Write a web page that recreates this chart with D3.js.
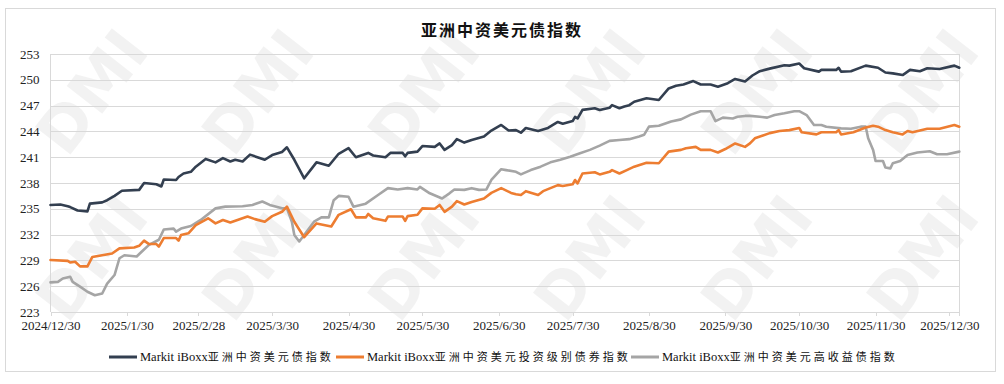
<!DOCTYPE html>
<html><head><meta charset="utf-8">
<script src="https://cdn.jsdelivr.net/npm/d3@7"></script>
<style>body{margin:0;background:#fff}svg{display:block}</style>
</head><body><svg id="c" width="1004" height="384"></svg>
<script>
const chartTitle = "亚洲中资美元债指数";
const seriesNames = ["Markit iBoxx亚洲中资美元债指数", "Markit iBoxx亚洲中资美元投资级别债券指数", "Markit iBoxx亚洲中资美元高收益债指数"];
const startDate = "2024-12-30";
const endDate = "2026-01-03";
const xTickDates = ["2024-12-30","2025-01-30","2025-02-28","2025-03-30","2025-04-30","2025-05-30","2025-06-30","2025-07-30","2025-08-30","2025-09-30","2025-10-30","2025-11-30","2025-12-30"];
const xTickLabels = ["2024/12/30","2025/1/30","2025/2/28","2025/3/30","2025/4/30","2025/5/30","2025/6/30","2025/7/30","2025/8/30","2025/9/30","2025/10/30","2025/11/30","2025/12/30"];
const yTicks = [223,226,229,232,235,238,241,244,247,250,253];

// day offsets from 2024-12-30 and index values
const allDays = [0,4,7,8,11,15,16,21,23,26,29,36,38,43,45,46,51,52,54,57,59,63,67,70,73,75,78,81,84,87,90,94,96,99,103,108,113,117,121,124,129,131,136,138,143,144,145,149,151,156,158,160,163,165,168,171,176,179,183,186,189,191,193,198,202,206,208,212,213,214,216,221,223,227,228,231,233,235,237,242,247,251,254,257,261,264,268,271,275,278,282,285,288,292,298,300,304,306,312,313,319,320,321,325,331,336,339,342,346,349,353,356,361,367,369];
const allValues = [235.45,235.5,235.3,235.2,234.8,234.7,235.6,235.75,236.0,236.5,237.1,237.2,238.0,237.85,237.6,238.4,238.35,238.7,239.1,239.3,239.9,240.8,240.4,240.9,240.5,240.7,240.5,241.3,241.0,240.7,241.25,241.6,242.15,240.7,238.55,240.4,240.0,241.4,242.05,241.0,241.5,241.2,241.0,241.5,241.5,241.1,241.5,241.65,242.3,242.2,242.6,241.85,242.4,243.1,242.7,243.0,243.4,244.1,244.75,244.1,244.15,243.85,244.4,244.05,244.4,245.1,244.9,245.2,245.7,245.5,246.5,246.7,246.5,246.75,247.05,246.7,246.9,247.05,247.45,247.85,247.65,249.0,249.3,249.45,249.85,249.45,249.45,249.2,249.6,250.1,249.8,250.5,251.0,251.3,251.7,251.65,251.9,251.35,250.95,251.15,251.15,251.4,250.95,251.0,251.65,251.4,250.85,250.75,250.55,251.15,251.0,251.35,251.25,251.65,251.4];

const igDays = [0,7,8,10,12,15,17,21,25,28,34,36,38,40,43,44,46,51,52,53,56,59,64,67,70,73,80,83,87,90,94,96,99,103,108,114,117,122,124,128,129,131,136,137,143,144,145,149,151,156,158,160,163,165,168,171,176,179,183,187,189,191,193,198,200,206,208,212,213,214,216,221,223,227,228,231,234,237,242,247,251,256,258,262,264,268,271,274,278,282,284,286,292,296,300,304,305,311,313,319,320,321,326,331,334,336,339,342,346,348,350,356,361,367,369];
const igValues = [229.05,228.95,228.75,228.85,228.3,228.3,229.4,229.6,229.8,230.4,230.5,230.7,231.3,230.9,230.9,230.6,231.6,231.6,231.3,231.95,232.15,233.1,233.9,233.3,233.7,233.4,234.1,233.8,233.5,234.15,234.65,235.25,233.5,231.7,233.3,232.95,234.3,234.95,234.0,234.0,234.4,233.9,233.6,234.1,234.1,233.6,234.15,234.3,235.05,235.0,235.45,234.65,235.25,235.9,235.5,235.8,236.2,236.85,237.4,236.85,236.7,236.6,237.05,236.6,237.05,237.75,237.65,237.85,238.35,237.95,239.1,239.25,239.0,239.3,239.5,239.1,239.5,239.9,240.35,240.3,241.65,241.85,242.05,242.2,241.85,241.85,241.55,241.95,242.6,242.2,242.6,243.2,243.8,244.05,244.15,244.4,243.9,243.65,243.9,243.9,244.15,243.65,243.9,244.45,244.65,244.55,244.15,243.9,243.65,244.05,243.9,244.3,244.3,244.75,244.55];

const hyDays = [0,3,5,8,9,12,15,18,21,23,26,28,30,35,37,40,44,46,50,51,53,57,61,67,71,78,82,86,89,94,96,98,99,101,103,107,110,113,115,117,121,123,128,133,137,141,145,149,150,154,159,162,164,168,171,174,177,179,183,185,189,191,195,199,203,207,211,215,219,223,227,231,235,239,241,243,247,252,256,260,264,268,270,273,277,279,282,284,288,291,294,298,302,304,307,310,313,315,321,325,329,331,332,334,335,338,339,341,342,345,348,352,357,360,364,369];
const hyValues = [226.45,226.5,226.9,227.1,226.5,225.95,225.35,224.95,225.15,226.3,227.3,229.25,229.6,229.45,230.0,230.8,231.4,232.6,232.7,232.35,232.7,233.0,233.7,235.05,235.25,235.3,235.45,235.85,235.45,235.05,235.05,233.5,231.95,231.2,231.95,233.5,234.0,234.0,236.0,236.5,236.4,235.25,235.6,236.6,237.4,237.25,237.4,237.25,237.55,236.8,236.2,236.8,237.25,237.2,237.4,237.2,237.25,238.35,239.6,239.5,239.3,239.0,239.5,239.9,240.4,240.7,241.05,241.45,241.85,242.35,242.9,243.0,243.1,243.4,243.6,244.55,244.65,245.15,245.4,245.95,246.35,246.35,245.2,245.6,245.5,245.7,245.8,245.8,245.7,245.6,245.9,246.1,246.35,246.35,245.9,244.75,244.75,244.55,244.35,244.3,244.55,244.55,243.2,241.85,240.55,240.55,239.8,239.7,240.3,240.55,241.25,241.55,241.7,241.35,241.35,241.65];

const lineColors = ["#333f50", "#ed7d31", "#a5a5a5"];

const svg = d3.select("#c");
const W = 1004, H = 384;
const plot = {left: 50.5, right: 959.3, top: 54, bottom: 312};
const parse = d3.timeParse("%Y-%m-%d");
const t0 = parse(startDate);
const x = d3.scaleTime().domain([t0, parse(endDate)]).range([plot.left, plot.right]);
const y = d3.scaleLinear().domain([223, 253]).range([plot.bottom, plot.top]);

// background + frame
svg.append("rect").attr("x",0).attr("y",0).attr("width",W).attr("height",H).attr("fill","#fff");
svg.append("rect").attr("x",5.5).attr("y",8.5).attr("width",990).attr("height",363)
  .attr("fill","none").attr("stroke","#d9d9d9").attr("stroke-width",1);

// watermark
const wmX = [92, 258, 424, 590, 757, 923];
const wmY = [92, 258];
const wm = svg.append("g").attr("fill","#000").attr("fill-opacity",0.05);
wmY.forEach(yy => wmX.forEach(xx => {
  wm.append("text").attr("transform",`translate(${xx},${yy}) rotate(-52)`)
    .attr("text-anchor","middle").attr("dominant-baseline","central")
    .attr("font-family","DejaVu Sans, sans-serif").attr("font-weight","bold")
    .attr("font-size",62).text("DMI");
}));

// gridlines
svg.append("g").attr("transform",`translate(${plot.left},0)`)
  .call(d3.axisLeft(y).tickValues(yTicks).tickSize(-(plot.right-plot.left)).tickFormat(""))
  .call(g => g.select(".domain").remove())
  .call(g => g.selectAll("line").attr("stroke","#d9d9d9").attr("shape-rendering","crispEdges"));
// plot borders (left/right)
svg.append("line").attr("x1",plot.left).attr("x2",plot.left).attr("y1",plot.top).attr("y2",plot.bottom).attr("stroke","#d9d9d9").attr("shape-rendering","crispEdges");
svg.append("line").attr("x1",plot.right).attr("x2",plot.right).attr("y1",plot.top).attr("y2",plot.bottom).attr("stroke","#d9d9d9").attr("shape-rendering","crispEdges");

// y labels
svg.append("g").attr("transform",`translate(${plot.left},0)`)
  .call(d3.axisLeft(y).tickValues(yTicks).tickSize(0).tickPadding(11).tickFormat(d3.format("d")))
  .call(g => g.select(".domain").remove())
  .call(g => g.selectAll("text").attr("font-family","Liberation Serif, Times New Roman, serif").attr("font-size",13).attr("fill","#222"));

// x axis
svg.append("g").attr("transform",`translate(0,${plot.bottom})`)
  .call(d3.axisBottom(x).tickValues(xTickDates.map(parse)).tickSize(4).tickPadding(5)
    .tickFormat((d,i) => xTickLabels[i]))
  .call(g => g.select(".domain").attr("stroke","#d9d9d9").attr("shape-rendering","crispEdges"))
  .call(g => g.selectAll("line").attr("stroke","#d9d9d9").attr("shape-rendering","crispEdges"))
  .call(g => g.selectAll("text").attr("font-family","Liberation Serif, Times New Roman, serif").attr("font-size",13).attr("fill","#222"));

// lines
const series = [
  {days: allDays, values: allValues},
  {days: igDays, values: igValues},
  {days: hyDays, values: hyValues}
];
const line = d3.line().x(d => x(d[0])).y(d => y(d[1]));
[2,1,0].forEach(i => {
  const s = series[i];
  const pts = s.days.map((d,k) => [d3.timeDay.offset(t0, d), s.values[k]]);
  svg.append("path").datum(pts).attr("d", line).attr("fill","none")
    .attr("stroke", lineColors[i]).attr("stroke-width", 2.6)
    .attr("stroke-linejoin","round").attr("stroke-linecap","round");
});

// title
svg.append("text").attr("x",502).attr("y",36).attr("text-anchor","middle")
  .attr("font-family","Noto Sans CJK SC, sans-serif").attr("font-weight","bold")
  .attr("font-size",16).attr("letter-spacing",2).attr("fill","#111").text(chartTitle);

// legend
const legX = [109, 336, 631];
const legY = 357;
seriesNames.forEach((name, i) => {
  const g = svg.append("g").attr("transform",`translate(${legX[i]},${legY})`);
  g.append("line").attr("x1",0).attr("x2",28).attr("y1",0).attr("y2",0)
    .attr("stroke",lineColors[i]).attr("stroke-width",3);
  const latin = name.match(/^[A-Za-z ]+/)[0];
  const cjk = name.slice(latin.length);
  const t = g.append("text").attr("x",31).attr("y",4).attr("fill","#111");
  t.append("tspan").attr("font-family","Liberation Serif, Times New Roman, serif").attr("font-size",12.5).text(latin);
  t.append("tspan").attr("font-family","Noto Sans CJK SC, sans-serif").attr("font-size",11).attr("letter-spacing",3).text(cjk);
});
</script>
</body></html>
